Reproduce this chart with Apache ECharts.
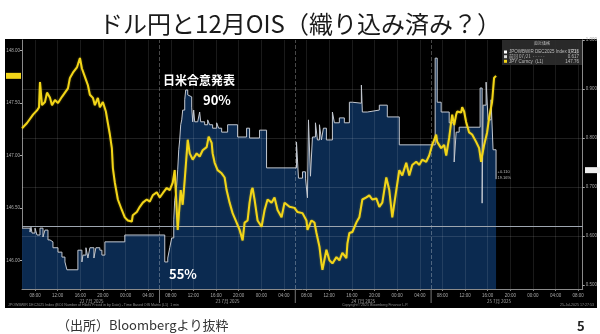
<!DOCTYPE html>
<html>
<head>
<meta charset="utf-8">
<script src="https://cdn.jsdelivr.net/npm/echarts@6/dist/echarts.min.js"></script>
<style>
  html, body { margin: 0; padding: 0; background: #fff; }
  #c { width: 600px; height: 334px; }
</style>
</head>
<body>
<div id="c"></div>
<script>
// Time is measured in hours from 22 Jul 2025 00:00.

// USD/JPY spot (left axis): [hour, price]
const usdJpy = [
  [5.71,147.26],[6.59,147.31],[7.65,147.39],[8.35,147.43],[8.71,147.46],[8.88,147.70],[9.23,147.48],[9.76,147.51],
  [10.12,147.60],[10.65,147.55],[11.00,147.48],[11.53,147.53],[12.06,147.50],[12.76,147.56],[13.29,147.60],[13.82,147.64],
  [14.17,147.74],[14.70,147.79],[15.41,147.84],[15.94,147.93],[16.29,147.83],[16.82,147.75],[17.35,147.67],[17.70,147.58],
  [18.23,147.55],[18.58,147.48],[19.11,147.55],[19.46,147.46],[19.99,147.51],[20.52,147.42],[20.87,147.31],[21.23,147.20],
  [21.58,147.07],[21.76,146.88],[22.11,146.74],[22.64,146.58],[23.34,146.48],[23.87,146.41],[24.40,146.38],[25.11,146.37],
  [25.28,146.43],[25.99,146.46],[26.52,146.51],[27.05,146.55],[27.75,146.58],[28.28,146.56],[28.81,146.62],[29.52,146.65],
  [30.05,146.60],[30.58,146.64],[31.28,146.69],[31.81,146.67],[32.34,146.74],[32.69,146.86],[33.22,146.29],[33.75,146.67],
  [34.10,146.53],[34.46,146.77],[34.99,147.15],[35.34,147.02],[35.87,146.96],[36.57,147.02],[37.10,146.99],[37.63,147.05],
  [38.34,147.08],[38.69,147.18],[39.22,147.12],[39.39,147.02],[39.75,146.93],[40.27,146.86],[40.98,146.83],[41.51,146.79],
  [41.86,146.67],[42.39,146.55],[42.92,146.45],[43.63,146.36],[44.16,146.29],[44.69,146.19],[45.04,146.36],[45.57,146.38],
  [45.92,146.55],[46.27,146.67],[46.45,146.69],[46.80,146.58],[47.33,146.38],[48.04,146.32],[48.57,146.48],[49.10,146.58],
  [49.80,146.55],[50.33,146.60],[50.86,146.48],[51.57,146.41],[52.10,146.55],[52.98,146.51],[53.86,146.50],[54.39,146.46],
  [55.27,146.45],[55.97,146.38],[56.15,146.29],[56.86,146.38],[57.38,146.36],[57.74,146.26],[58.27,146.13],[58.62,145.97],
  [58.80,145.91],[59.50,146.10],[60.03,146.00],[60.56,145.97],[61.27,146.03],[61.80,146.00],[62.32,146.07],[63.03,146.02],
  [63.21,146.16],[63.56,146.26],[64.09,146.27],[64.79,146.36],[65.32,146.41],[65.85,146.58],[66.56,146.60],[67.08,146.62],
  [67.61,146.58],[68.32,146.59],[68.85,146.51],[69.38,146.55],[70.08,146.79],[70.61,146.67],[71.14,146.41],[71.85,146.67],
  [72.38,146.86],[72.91,146.81],[73.61,146.93],[74.14,146.81],[74.67,146.91],[75.37,146.94],[75.90,146.91],[76.43,146.96],
  [77.14,146.94],[77.67,147.00],[78.19,147.10],[78.90,147.20],[79.08,147.13],[79.78,147.07],[80.31,147.10],[80.67,147.00],
  [81.20,147.17],[81.55,147.32],[81.73,147.39],[82.08,147.29],[82.43,147.39],[82.61,147.42],[83.31,147.41],[83.49,147.46],
  [83.84,147.42],[84.19,147.32],[84.72,147.22],[85.25,147.20],[85.96,147.13],[86.49,147.07],[86.84,146.94],[87.02,147.00],
  [87.37,147.10],[87.90,147.22],[88.25,147.36],[88.78,147.51],[89.13,147.74],[89.48,147.76]
];

// Dec-2025 BOJ OIS (right axis): [hour, rate] at each change
const oisDec25 = [
  [5.71,0.616],[7.12,0.608],[7.29,0.618],[7.47,0.606],[8.00,0.616],[8.35,0.602],[8.88,0.616],[9.41,0.598],
  [9.76,0.612],[10.29,0.592],[10.65,0.588],[11.17,0.576],[12.06,0.567],[12.76,0.557],[13.29,0.547],[13.64,0.531],
  [15.58,0.571],[16.29,0.547],[16.47,0.561],[17.00,0.576],[17.35,0.555],[17.70,0.576],[18.41,0.555],[18.76,0.576],
  [19.46,0.571],[19.82,0.561],[20.35,0.588],[23.87,0.602],[30.93,0.547],[31.46,0.555],[31.81,0.576],[32.16,0.596],
  [32.52,0.633],[32.69,0.673],[33.04,0.704],[33.22,0.735],[33.40,0.776],[33.57,0.796],[33.75,0.827],[33.93,0.837],
  [34.10,0.857],[34.46,0.878],[34.63,0.898],[34.99,0.888],[35.34,0.884],[35.69,0.863],[35.87,0.833],[36.04,0.857],
  [36.22,0.833],[36.75,0.837],[37.10,0.853],[37.28,0.833],[37.98,0.827],[38.51,0.837],[38.86,0.827],[39.39,0.820],
  [40.10,0.831],[40.45,0.820],[40.98,0.812],[42.04,0.827],[43.80,0.802],[45.39,0.820],[45.92,0.800],[47.68,0.816],
  [48.92,0.739],[54.21,0.792],[54.56,0.718],[55.27,0.731],[55.80,0.718],[56.15,0.678],[56.33,0.837],[56.68,0.722],
  [57.03,0.802],[57.56,0.831],[57.91,0.796],[58.27,0.827],[58.62,0.796],[58.97,0.820],[59.50,0.796],[60.56,0.853],
  [60.91,0.831],[61.79,0.841],[62.67,0.831],[63.56,0.873],[64.09,0.871],[65.68,0.908],[65.85,0.853],[66.73,0.857],
  [68.85,0.867],[70.26,0.843],[72.38,0.786],[78.72,0.963],[79.08,0.873],[79.78,0.853],[81.20,0.831],[82.08,0.751],
  [82.43,0.812],[82.96,0.822],[86.66,0.902],[87.02,0.667],[87.19,0.867],[87.72,0.914],[88.07,0.837],[88.60,0.878],
  [88.95,0.776],[89.48,0.716]
];

const prevClose = 0.617;          // 前回 07/21
const hourTicks = [8,12,16,20,24,28,32,36,40,44,48,52,56,60,64,68,72,76,80,84,88,92,96,100,104];
const daySeparators = [30, 54, 78];
const dayLabelHours = [18, 42, 66, 90];
const dayLabels = ['22 7月 2025', '23 7月 2025', '24 7月 2025', '25 7月 2025'];
const leftTicks = [146, 146.5, 147, 147.5, 148];
const rightTicks = [0.5, 0.6, 0.7, 0.8, 0.9, 1.0];
const rightGrid = [0.6, 0.7, 0.8, 0.9];

const X_MIN = 5.7, X_MAX = 104.8;
const AX_FONT = 'Liberation Sans';
const AX_COLOR = '#a9a9a9';

const chart = echarts.init(document.getElementById('c'));

const pad2 = n => (n < 10 ? '0' : '') + n;

chart.setOption({
  animation: false,
  backgroundColor: '#ffffff',
  title: {
    text: 'ドル円と12月OIS（織り込み済み？）',
    left: 'center',
    top: 7,
    textStyle: { fontFamily: 'Noto Sans CJK JP', fontSize: 24, fontWeight: 'normal', color: '#1a1a1a' }
  },
  grid: { left: 22, right: 16, top: 40, bottom: 45, containLabel: false },
  xAxis: [
    {
      type: 'value', min: X_MIN, max: X_MAX,
      axisLine: { lineStyle: { color: '#8a8a8a', width: 1 } },
      axisTick: { show: true, customValues: hourTicks, length: 2, lineStyle: { color: '#888' } },
      axisLabel: {
        customValues: hourTicks, margin: 4, fontSize: 4.5, fontFamily: AX_FONT, color: AX_COLOR,
        formatter: v => pad2(Math.round(v) % 24) + ':00'
      },
      splitLine: { show: false }
    },
    {
      type: 'value', min: X_MIN, max: X_MAX, position: 'bottom', offset: 6,
      axisLine: { show: false }, axisTick: { show: false },
      axisLabel: {
        customValues: dayLabelHours, margin: 4, fontSize: 4.5, fontFamily: 'Noto Sans CJK JP', color: AX_COLOR,
        formatter: v => dayLabels[dayLabelHours.indexOf(v)]
      },
      splitLine: { show: false }
    }
  ],
  yAxis: [
    {
      type: 'value', position: 'left', min: 145.726, max: 148.102,
      axisLine: { show: true, lineStyle: { color: '#8a8a8a' } },
      axisTick: { show: true, customValues: leftTicks, length: 2, lineStyle: { color: '#aaa' } },
      axisLabel: {
        customValues: leftTicks, margin: 2, fontSize: 4.5, fontFamily: AX_FONT, color: AX_COLOR,
        formatter: v => v.toFixed(2)
      },
      splitLine: { show: false }
    },
    {
      type: 'value', position: 'right', min: 0.4918, max: 1.0,
      axisLine: { show: true, lineStyle: { color: '#8a8a8a' } },
      axisTick: { show: true, customValues: rightTicks, length: 2, lineStyle: { color: '#aaa' } },
      axisLabel: {
        customValues: rightTicks, margin: 3, fontSize: 4.5, fontFamily: AX_FONT, color: AX_COLOR,
        formatter: v => v.toFixed(3)
      },
      splitLine: { show: false }
    }
  ],
  series: [
    {
      name: 'JPOWBWIR DEC2025 Index',
      type: 'line', xAxisIndex: 0, yAxisIndex: 1,
      data: oisDec25, step: 'end', symbol: 'none', z: 2,
      lineStyle: { color: '#c3c8d0', width: 1 },
      areaStyle: { color: '#0b2a50', opacity: 1, origin: 'start' },
      markLine: {
        silent: true, symbol: 'none', label: { show: false },
        data: [
          ...hourTicks.map(h => ({ xAxis: h, lineStyle: { color: 'rgba(255,255,255,0.10)', width: 1, type: 'solid' } })),
          ...daySeparators.map(h => ({ xAxis: h, lineStyle: { color: 'rgba(255,255,255,0.28)', width: 1, type: 'dashed' } })),
          ...rightGrid.map(v => ({ yAxis: v, lineStyle: { color: 'rgba(255,255,255,0.12)', width: 1, type: 'solid' } })),
          { yAxis: prevClose, lineStyle: { color: '#9ea6b0', width: 1, type: 'solid' } }
        ]
      }
    },
    {
      name: 'JPY Curncy',
      type: 'line', xAxisIndex: 0, yAxisIndex: 0,
      data: usdJpy, symbol: 'none', z: 5,
      lineStyle: { color: '#f2d518', width: 2, shadowColor: 'rgba(242,213,24,0.45)', shadowBlur: 2 }
    }
  ]
});

// Overlays: panel backdrop, legend box, last-value tags and notes
const lastJpy = usdJpy[usdJpy.length - 1];
const lastOis = oisDec25[oisDec25.length - 1];
const yJpy = chart.convertToPixel({ yAxisIndex: 0 }, lastJpy[1]);
const yOis = chart.convertToPixel({ yAxisIndex: 1 }, lastOis[1]) - 9; // nudged clear of the 0.700 label
const xEnd = chart.convertToPixel({ xAxisIndex: 0 }, lastOis[0]);
const plotBottom = 334 - 45;

const tiny = (text, x, y, opts = {}) => ({
  type: 'text', x, y, z: 50,
  style: Object.assign({ text, fill: '#bdbdbd', fontSize: 4.5, fontFamily: AX_FONT, textVerticalAlign: 'middle' }, opts)
});

const graphics = [
  { type: 'rect', z: -100, shape: { x: 5, y: 39, width: 592, height: 269 }, style: { fill: '#000' } },
  // day separators below the time axis
  ...daySeparators.map(h => {
    const x = chart.convertToPixel({ xAxisIndex: 0 }, h);
    return { type: 'line', z: 40, shape: { x1: x, y1: plotBottom, x2: x, y2: plotBottom + 14 }, style: { stroke: '#777', lineWidth: 1 } };
  }),
  // legend
  { type: 'rect', z: 45, shape: { x: 502, y: 40, width: 80, height: 25 }, style: { fill: 'rgba(44,44,44,0.92)' } },
  tiny('直近価格', 542, 43.5, { textAlign: 'center', fontFamily: 'Noto Sans CJK JP', fontSize: 4 }),
  { type: 'rect', z: 50, shape: { x: 504, y: 50.5, width: 3, height: 3 }, style: { fill: '#ffffff' } },
  tiny('JPOWBWIR DEC2025 Index  (R1)', 509, 52),
  tiny(lastOis[1].toFixed(3), 579, 52, { textAlign: 'right' }),
  { type: 'rect', z: 50, shape: { x: 504, y: 55.2, width: 3, height: 3 }, style: { fill: '#dcdcdc' } },
  tiny('前回 07/21  - - - - -', 509, 56.7, { fontFamily: 'Noto Sans CJK JP' }),
  tiny(prevClose.toFixed(3), 579, 56.7, { textAlign: 'right' }),
  { type: 'rect', z: 50, shape: { x: 504, y: 59.8, width: 3, height: 3 }, style: { fill: '#f2d518' } },
  tiny('JPY Curncy  (L1)', 509, 61.3),
  tiny(lastJpy[1].toFixed(2), 579, 61.3, { textAlign: 'right' }),
  // last-value tags
  { type: 'rect', z: 60, shape: { x: 6, y: yJpy - 3, width: 15, height: 6 }, style: { fill: '#f2d518' } },
  tiny(lastJpy[1].toFixed(2), 13.5, yJpy, { textAlign: 'center', fill: '#111' }),
  { type: 'rect', z: 60, shape: { x: 585, y: yOis - 3, width: 15, height: 6 }, style: { fill: '#eeeeee' } },
  tiny(lastOis[1].toFixed(3), 592.5, yOis, { textAlign: 'center', fill: '#111' }),
  tiny('+0.110', xEnd + 1.5, yOis + 2, { fontSize: 4 }),
  tiny('19.16%', xEnd + 1.5, yOis + 8, { fontSize: 4 }),
  // footer strip inside the panel
  tiny('JPOWBWIR DEC2025 Index (BOJ Number of Hikes Priced in by Date) - Time Based OIS Matrix (L1)  1 min', 8, 305, { fontSize: 3.6, fill: '#8c8c8c' }),
  tiny('Copyright© 2025 Bloomberg Finance L.P.', 342, 305, { fontSize: 3.6, fill: '#8c8c8c' }),
  tiny('25-Jul-2025 17:27:53', 594, 305, { fontSize: 3.6, fill: '#8c8c8c', textAlign: 'right' }),
  // annotations
  { type: 'text', z: 70, x: 163, y: 80, style: { text: '日米合意発表', fill: '#ffffff', fontSize: 12, fontWeight: 'bold', fontFamily: 'Noto Sans CJK JP', textVerticalAlign: 'middle' } },
  { type: 'text', z: 70, x: 203, y: 100, style: { text: '90%', fill: '#ffffff', fontSize: 13, fontWeight: 'bold', fontFamily: 'Noto Sans CJK JP', textVerticalAlign: 'middle' } },
  { type: 'text', z: 70, x: 169, y: 274, style: { text: '55%', fill: '#ffffff', fontSize: 13, fontWeight: 'bold', fontFamily: 'Noto Sans CJK JP', textVerticalAlign: 'middle' } },
  // slide footer
  { type: 'text', z: 70, x: 57, y: 325, style: { text: '（出所）Bloombergより抜粋', fill: '#333333', fontSize: 13, fontFamily: 'Noto Sans CJK JP', textVerticalAlign: 'middle' } },
  { type: 'text', z: 70, x: 577, y: 326, style: { text: '5', fill: '#222222', fontSize: 13, fontWeight: 'bold', fontFamily: 'Noto Sans CJK JP', textVerticalAlign: 'middle' } }
];

chart.setOption({ graphic: { elements: graphics } });
</script>
</body>
</html>
